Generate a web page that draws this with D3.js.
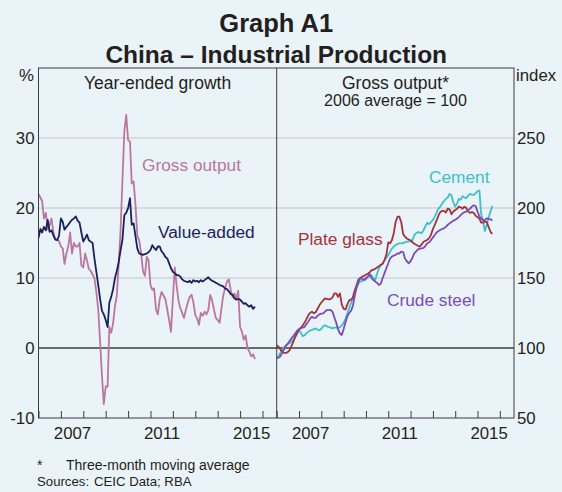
<!DOCTYPE html>
<html><head><meta charset="utf-8">
<script src="https://cdn.jsdelivr.net/npm/d3@7"></script>
<style>
html,body{margin:0;padding:0;background:#eaf3f7;}
svg{display:block;font-family:"Liberation Sans",Arial,sans-serif;}
</style></head><body>
<svg id="chart" width="562" height="492"></svg>
<script>
// ---- Data (monthly, starting January 2006) ----
const startYear = 2006;
const grossOutput = [22,21.5,21,18.5,19.3,17,17.5,18.5,16.5,15.5,
 15.5,15.3,14.5,14.2,12,13.5,14.5,16.5,13.5,15,
 14.5,14.5,15,11.8,11.5,13.5,12.5,11.3,11,10.5,
 10,8,5.5,1,-4,-8,-5.5,-5.5,3,2.2,
 3.5,6,7.5,12,17,24,31,33.3,29.7,29.5,
 23.5,23.8,20.5,16,15.4,13.5,11,10.3,13,12.5,
 9,8.3,8.5,5.5,4.8,7,8,7.5,7,5.5,
 4,2.3,7,11.5,9,6.8,5.7,5,4.3,5.5,
 6.5,7.3,7.6,6.5,4.7,4.2,3.3,5,4.6,5.2,
 4.8,5.4,7.6,6.8,5.5,4.3,4,3.6,5.5,7.5,
 8.5,9.5,9.8,8.3,7.3,7.8,7,8.2,3,2.3,
 1.2,1.8,0,-0.5,-1.2,-0.9,-1.6];
const valueAdded = [15.7,17,16.5,17.3,16.8,18.3,16.6,16.8,16.1,15.5,
 15.4,16,18.5,18,16.9,17.3,17.6,18,18.3,18.5,
 18.8,18.2,17.9,16.5,15.2,15.7,16.2,15.4,15.2,15,
 12.8,10.9,9,7,5.3,4.8,4,3,6.5,7.3,
 8.4,10,11,12.3,14,15.5,19,19.3,20,21.4,
 17.6,17.8,16,14.2,13.5,13.4,13.3,13.4,13.5,13.7,
 14,14.7,14.3,14,14.5,14.5,13.8,13.5,13,12.8,
 12.1,11.4,10.9,10.7,10.4,10.4,10.2,9.8,9.6,9.5,
 9.4,9.6,9.3,9.7,9.5,9.6,9.4,9.7,9.5,9.7,
 9.9,10.1,9.8,9.6,9.5,9.3,9.2,9,8.9,8.8,
 8.5,8.4,8.1,7.7,7.6,7.1,6.9,7,6.9,6.6,
 6.3,6.4,6.1,5.9,6.1,5.6,5.9];
const plateGlass = [102,101,99,97.4,96.5,96.5,97,98.5,101.5,104.5,
 108,111,113,114.5,116,118,120.5,123.3,125,126,
 124.8,125.5,128,130.5,132.5,134,135.5,135,134.8,135,
 136,139,139,136.6,139,131,128,127.5,131,134,
 134.5,136,141,145,149,150,151,151.5,152.5,153,
 154,155.5,156,156.5,157.5,158.5,159.5,160,163,166.5,
 175.5,174.8,177,182,190,193.8,193.8,190,181.5,179.5,
 178.2,177.5,176.8,175.5,174.5,173.7,173,172.4,174,175.9,
 176.5,177.3,178.5,181,185,188,191,194.5,197,198,
 198,196.8,199.5,199,195.5,197.5,198.6,199.5,201,200.5,
 199.5,201,200,197.5,196.5,197,196.5,194.5,193.5,192.5,
 189.5,189.5,190.2,190,186.5,183,181.5];
const cement = [92.6,94.5,96.5,98.5,100.5,102,103,103.5,104.5,106,
 108,110,112.5,111,108.5,109,110.5,111.5,112.5,113,
 113.5,114,113,112.8,113.5,115.5,116.2,115.5,115,114.5,
 114,114.5,114.5,114,115,116,118,121,124.5,128.5,
 132,136,139.5,143,146,147.5,148,148.5,149,150.5,
 151.5,152,150,148.6,153,157,159,160.5,162.5,164.5,
 166.5,168.8,171,172.5,173.6,174.2,174.8,174.8,175,175.5,
 176,176,176.5,177,180.5,182,182.8,182.5,182,184.3,
 187,189.5,188.5,190,191.5,194,196.5,199.5,201,203,
 205,206.5,207.5,210,209,204,201,203.3,206.5,206,
 208.5,207.5,207,209,210,209.5,209.3,210.5,212,212.5,
 196,190.5,183.5,188,193,197.5,201.5];
const crudeSteel = [92.6,93.2,94,96.5,99,101.5,103,105,107,108.5,
 110.5,112.4,113.5,114.2,114.5,115,117,118.8,121,122.4,
 121.5,121.5,123,124,124.5,124.8,126,127.1,127.1,127.3,
 126,122,118,113.5,110.5,109.3,113.5,118.5,122.5,125,
 126.5,130,137,143.5,147.5,149.8,149.5,148.6,150,151,
 153,150,148.6,147.5,146.5,145,146,150,153.5,157,
 160.5,164,165.2,166,166.5,167.6,167.5,168.8,168.5,164,
 162,160.5,162,164.5,167.6,169,170.5,171,171.2,171.5,
 173,174.8,175.5,177.1,179,180.7,182.5,183.5,184.3,185,
 185.5,186.5,188,189,190,191,191.5,192.5,193.5,195,
 196.2,197,197.4,198.6,199.5,201,202,201.4,197.4,194,
 192.5,191.4,191.4,192.6,192.2,191.9,191];
const leftTicks = [-10, 0, 10, 20, 30];
const rightTicks = [50, 100, 150, 200, 250];
const yearLabels = [2007, 2011, 2015];

// ---- Layout ----
const W = 562, H = 492;
const pTop = 68, pBottom = 418, pLeft = 38.5, pMid = 276.7, pRight = 514;
const bg = "#eaf3f7";
const svg = d3.select("#chart");
svg.append("rect").attr("width", W).attr("height", H).attr("fill", bg);

const dateOf = i => new Date(startYear, i, 1);
const domain = [new Date(2006, 0, 1), new Date(2016, 7, 20)];
const xL = d3.scaleTime().domain(domain).range([pLeft, pMid]);
const xR = d3.scaleTime().domain(domain).range([pMid, pRight]);
const yL = d3.scaleLinear().domain([-10, 40]).range([pBottom, pTop]);
const yR = d3.scaleLinear().domain([50, 300]).range([pBottom, pTop]);

// Titles
const cx = (pLeft + pRight) / 2;
svg.append("text").attr("x", cx).attr("y", 32).attr("text-anchor", "middle")
  .attr("font-size", 25.5).attr("font-weight", "bold").attr("fill", "#231f20").text("Graph A1");
svg.append("text").attr("x", cx).attr("y", 63).attr("text-anchor", "middle")
  .attr("font-size", 24.5).attr("font-weight", "bold").attr("fill", "#231f20").text("China – Industrial Production");

// Gridlines
const grid = svg.append("g");
[10, 20, 30].forEach(v => {
  grid.append("line").attr("x1", pLeft).attr("x2", pRight)
    .attr("y1", yL(v)).attr("y2", yL(v)).attr("stroke", "#c3c6c8").attr("stroke-width", 1);
});
grid.append("line").attr("x1", pLeft).attr("x2", pRight)
  .attr("y1", yL(0)).attr("y2", yL(0)).attr("stroke", "#3c3c3c").attr("stroke-width", 1.3);

// Axes - y labels
const fmt = d => String(d);
const axL = svg.append("g").attr("transform", `translate(${pLeft},0)`)
  .call(d3.axisLeft(yL).tickValues(leftTicks).tickSize(0).tickPadding(4).tickFormat(fmt));
const axR = svg.append("g").attr("transform", `translate(${pRight},0)`)
  .call(d3.axisRight(yR).tickValues(rightTicks).tickSize(0).tickPadding(3).tickFormat(fmt));
[axL, axR].forEach(a => {
  a.select(".domain").remove();
  a.selectAll("text").attr("font-size", 16.8).attr("fill", "#231f20")
    .attr("font-family", "'Liberation Sans', Arial, sans-serif");
});

// x ticks (inside, pointing up) and labels
[xL, xR].forEach(x => {
  const t = svg.append("g").attr("transform", `translate(0,${pBottom})`)
    .call(d3.axisBottom(x).ticks(d3.timeYear.every(1)).tickSize(-7).tickFormat(""));
  t.select(".domain").remove();
  t.selectAll("line").attr("stroke", "#3c3c3c");
  const lab = svg.append("g").attr("transform", `translate(0,${pBottom})`)
    .call(d3.axisBottom(x).tickValues(yearLabels.map(y => new Date(y, 6, 1)))
      .tickSize(0).tickPadding(9).tickFormat(d3.timeFormat("%Y")));
  lab.select(".domain").remove();
  lab.selectAll("text").attr("font-size", 16.8).attr("fill", "#231f20")
    .attr("font-family", "'Liberation Sans', Arial, sans-serif");
});

// Clip paths
const defs = svg.append("defs");
defs.append("clipPath").attr("id", "clipL").append("rect")
  .attr("x", pLeft).attr("y", pTop).attr("width", pMid - pLeft).attr("height", pBottom - pTop);
defs.append("clipPath").attr("id", "clipR").append("rect")
  .attr("x", pMid).attr("y", pTop).attr("width", pRight - pMid).attr("height", pBottom - pTop);

function drawLine(data, x, y, color, clip) {
  const line = d3.line().x((d, i) => x(dateOf(i))).y(d => y(d));
  svg.append("path").datum(data).attr("d", line).attr("fill", "none")
    .attr("stroke", color).attr("stroke-width", 1.8).attr("stroke-linejoin", "round")
    .attr("clip-path", `url(#${clip})`);
}
const cGross = "#bb76a0", cValue = "#1c1f5e", cCement = "#3cc0cb", cGlass = "#a8303b", cSteel = "#7b4cb9";
drawLine(grossOutput, xL, yL, cGross, "clipL");
drawLine(valueAdded, xL, yL, cValue, "clipL");
drawLine(cement, xR, yR, cCement, "clipR");
drawLine(plateGlass, xR, yR, cGlass, "clipR");
drawLine(crudeSteel, xR, yR, cSteel, "clipR");

// Frame
svg.append("rect").attr("x", pLeft).attr("y", pTop).attr("width", pRight - pLeft).attr("height", pBottom - pTop)
  .attr("fill", "none").attr("stroke", "#3c3c3c").attr("stroke-width", 1);
svg.append("line").attr("x1", pMid).attr("x2", pMid).attr("y1", pTop).attr("y2", pBottom)
  .attr("stroke", "#3c3c3c").attr("stroke-width", 1);

// Panel titles & units
const txt = (x, y, s, size, anchor, color) => svg.append("text").attr("x", x).attr("y", y)
  .attr("font-size", size).attr("text-anchor", anchor || "start").attr("fill", color || "#231f20").text(s);
txt(157.5, 89, "Year-ended growth", 17.5, "middle");
txt(395.5, 89, "Gross output*", 17.5, "middle");
txt(395.5, 106, "2006 average = 100", 16, "middle");
txt(34, 81, "%", 16.8, "end");
txt(516, 81, "index", 16.8, "start");

// Series labels
txt(142, 171, "Gross output", 17.3, "start", cGross);
txt(158, 238, "Value-added", 17.3, "start", cValue);
txt(429, 182.5, "Cement", 17.3, "start", cCement);
txt(298, 245, "Plate glass", 17.3, "start", cGlass);
txt(387, 306, "Crude steel", 17.3, "start", cSteel);

// Footnotes
txt(37, 470, "*", 14, "start");
txt(66, 470, "Three-month moving average", 14, "start");
txt(37, 486, "Sources:", 13.2, "start");
txt(94, 486, "CEIC Data; RBA", 13.2, "start");
</script>
</body></html>
